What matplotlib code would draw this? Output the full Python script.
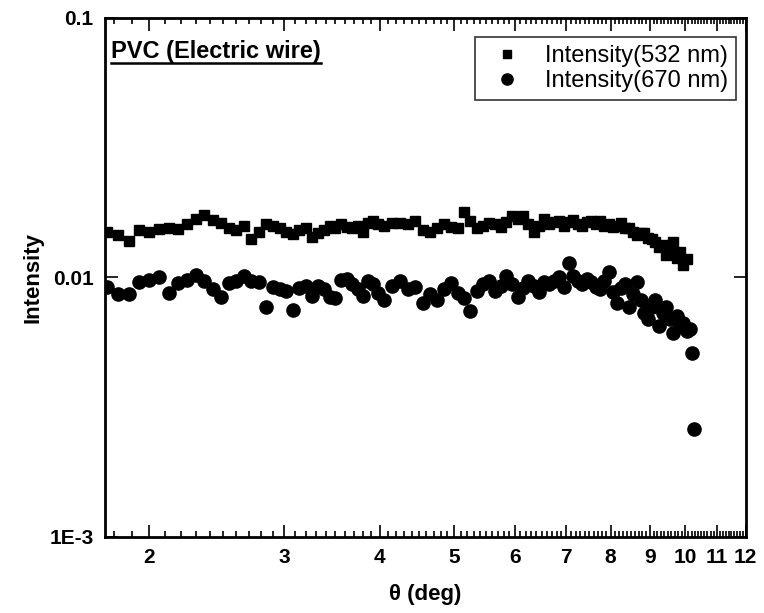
import matplotlib
matplotlib.use("Agg")
import matplotlib.pyplot as plt
from matplotlib.ticker import FixedLocator, FixedFormatter, MultipleLocator, NullLocator
from matplotlib.lines import Line2D

plt.rcParams['font.family'] = ['Liberation Sans', 'DejaVu Sans']

# scattering angle (deg)
theta = [1.76, 1.82, 1.88, 1.94, 2.00, 2.06, 2.12, 2.18, 2.24, 2.30,
         2.36, 2.42, 2.48, 2.54, 2.60, 2.66, 2.72, 2.78, 2.84, 2.90,
         2.96, 3.02, 3.08, 3.14, 3.20, 3.26, 3.32, 3.38, 3.44, 3.50,
         3.56, 3.62, 3.68, 3.74, 3.80, 3.86, 3.92, 3.98,
         4.05, 4.15, 4.25, 4.35, 4.45, 4.55, 4.65, 4.75, 4.85, 4.95,
         5.05, 5.15, 5.25, 5.35, 5.45, 5.55, 5.65, 5.75, 5.85, 5.95,
         6.05, 6.15, 6.25, 6.35, 6.45, 6.55, 6.65, 6.75, 6.85, 6.95,
         7.05, 7.15, 7.25, 7.35, 7.45, 7.55, 7.65, 7.75, 7.85, 7.95,
         8.05, 8.15, 8.25, 8.35, 8.45, 8.55, 8.65, 8.75, 8.85, 8.95,
         9.05, 9.15, 9.25, 9.35, 9.45, 9.55, 9.65, 9.75, 9.85, 9.95,
         10.05, 10.15]

# Intensity(532 nm), up to theta = 10.05
int_532 = [0.0150, 0.0146, 0.0138, 0.0152, 0.0150, 0.0153, 0.0155, 0.0154, 0.0160, 0.0168,
           0.0174, 0.0166, 0.0162, 0.0155, 0.0152, 0.0158, 0.0140, 0.0150, 0.0160, 0.0158,
           0.0155, 0.0150, 0.0147, 0.0152, 0.0155, 0.0143, 0.0148, 0.0152, 0.0158, 0.0155,
           0.0160, 0.0157, 0.0155, 0.0158, 0.0150, 0.0162, 0.0165, 0.0160,
           0.0158, 0.0162, 0.0162, 0.0160, 0.0165, 0.0152, 0.0150, 0.0155, 0.0160, 0.0157,
           0.0155, 0.0178, 0.0165, 0.0155, 0.0158, 0.0162, 0.0160, 0.0156, 0.0163, 0.0172,
           0.0168, 0.0172, 0.0160, 0.0150, 0.0158, 0.0168, 0.0160, 0.0163, 0.0165, 0.0158,
           0.0163, 0.0167, 0.0160, 0.0158, 0.0163, 0.0165, 0.0160, 0.0165, 0.0158, 0.0160,
           0.0156, 0.0158, 0.0162, 0.0155, 0.0155, 0.0150, 0.0145, 0.0148, 0.0148, 0.0142,
           0.0140, 0.0137, 0.0131, 0.0133, 0.0122, 0.0128, 0.0137, 0.0119, 0.0125, 0.0112,
           0.0118]

# Intensity(670 nm)
int_670 = [0.0092, 0.0086, 0.0086, 0.0096, 0.0098, 0.0100, 0.0087, 0.0095, 0.0098, 0.0102,
           0.0097, 0.0090, 0.0084, 0.0095, 0.0097, 0.0101, 0.0097, 0.0096, 0.0077, 0.0092,
           0.0090, 0.0089, 0.0075, 0.0091, 0.0093, 0.0085, 0.0093, 0.0090, 0.0084, 0.0083,
           0.0098, 0.0099, 0.0094, 0.0090, 0.0085, 0.0097, 0.0094, 0.0087,
           0.0082, 0.0093, 0.0097, 0.0090, 0.0092, 0.0080, 0.0086, 0.0082, 0.0090, 0.0095,
           0.0087, 0.0083, 0.0074, 0.0089, 0.0094, 0.0097, 0.0089, 0.0093, 0.0101, 0.0094,
           0.0084, 0.0091, 0.0097, 0.0093, 0.0088, 0.0096, 0.0094, 0.0097, 0.0100, 0.0092,
           0.0114, 0.0101, 0.0097, 0.0094, 0.0099, 0.0096, 0.0092, 0.0090, 0.0097, 0.0105,
           0.0088, 0.0080, 0.0091, 0.0094, 0.0077, 0.0086, 0.0096, 0.0082, 0.0073, 0.0069,
           0.0077, 0.0082, 0.0065, 0.0073, 0.0077, 0.0069, 0.0061, 0.0071, 0.0065, 0.0067,
           0.0062, 0.0063]

# last two circles past the main band
theta_tail = [10.22, 10.27]
int_670_tail = [0.0051, 0.0026]

x_ticks = [2, 3, 4, 5, 6, 7, 8, 9, 10, 11, 12]
y_ticks = [0.001, 0.01, 0.1]
y_labels = ["1E-3", "0.01", "0.1"]

fig = plt.figure(figsize=(7.64, 6.13), dpi=100)
ax = fig.add_axes([0.137, 0.124, 0.839, 0.847])

ax.plot(theta[:len(int_532)], int_532, 's', color='black', markersize=7.5,
        label='Intensity(532 nm)')
ax.plot(theta + theta_tail, int_670 + int_670_tail, 'o', color='black', markersize=9.5,
        label='Intensity(670 nm)')

ax.set_xscale('log')
ax.set_yscale('log')
ax.set_xlim(1.75, 12)
ax.set_ylim(0.001, 0.1)

ax.xaxis.set_major_locator(FixedLocator(x_ticks))
ax.xaxis.set_major_formatter(FixedFormatter([str(t) for t in x_ticks]))
ax.xaxis.set_minor_locator(MultipleLocator(0.1))
ax.xaxis.set_minor_formatter(FixedFormatter([]))
ax.yaxis.set_major_locator(FixedLocator(y_ticks))
ax.yaxis.set_major_formatter(FixedFormatter(y_labels))
ax.yaxis.set_minor_locator(NullLocator())

ax.tick_params(which='both', direction='in', top=True, right=True, width=1.2)
ax.tick_params(which='major', length=9, labelsize=15, pad=8)
ax.tick_params(which='minor', length=4)
for lab in ax.get_xticklabels() + ax.get_yticklabels():
    lab.set_fontweight('bold')
for sp in ax.spines.values():
    sp.set_linewidth(2)

ax.set_xlabel('θ (deg)', fontsize=16, fontweight='bold', labelpad=12)
ax.set_ylabel('Intensity', fontsize=16, fontweight='bold', labelpad=4)

leg = ax.legend(loc='upper right', fontsize=17, frameon=True, fancybox=False,
                edgecolor='black', handletextpad=0.6, borderpad=0.35,
                labelspacing=0.12, borderaxespad=0, markerscale=0.85,
                bbox_to_anchor=(0.985, 0.963))
leg.get_frame().set_linewidth(1.2)

title = ax.text(0.01, 0.958, 'PVC (Electric wire)', transform=ax.transAxes,
                fontsize=17, fontweight='bold', va='top', ha='left')

# underline the sample name
fig.canvas.draw()
bb = title.get_window_extent().transformed(fig.transFigure.inverted())
fig.add_artist(Line2D([bb.x0, bb.x1], [bb.y0 - 0.001, bb.y0 - 0.001],
                      transform=fig.transFigure, color='black', linewidth=1.8))

fig.savefig('out.png', dpi=100)
